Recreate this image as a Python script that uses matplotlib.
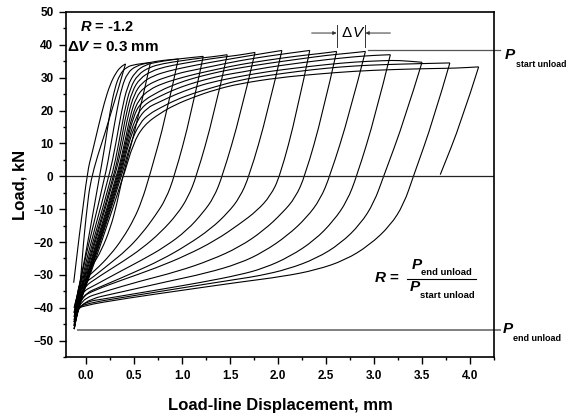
import matplotlib
matplotlib.use("Agg")
import matplotlib.pyplot as plt
from matplotlib.path import Path
from matplotlib.patches import PathPatch
from matplotlib.ticker import MultipleLocator, FormatStrFormatter

# unloading points (end of each loading step), mm / kN
unload_x = [0.41, 0.67, 0.96, 1.22, 1.47, 1.76, 2.04, 2.33, 2.61, 2.91, 3.17, 3.50, 3.79, 4.09]
unload_p = [34.2, 34.6, 35.7, 36.5, 37.0, 37.7, 38.3, 38.3, 38.0, 38.0, 37.0, 34.7, 34.5, 33.3]

# minimum (end of unloading) loads per cycle
tip_p = [-40.0, -41.5, -42.8, -43.8, -44.4, -45.2, -46.5, -46.5, -45.6, -45.6, -44.4, -41.6, -41.4]

# loading branches (first one is the initial loading)
load_x = [
    [-0.13, 0.0, 0.07, 0.13, 0.19, 0.25, 0.31, 0.36, 0.41],
    [-0.125, -0.065, 0.14, 0.20, 0.25, 0.30, 0.35, 0.42, 0.52, 0.67],
    [-0.125, -0.065, 0.20, 0.26, 0.32, 0.37, 0.43, 0.52, 0.65, 0.80, 0.96],
    [-0.125, -0.065, 0.24, 0.31, 0.37, 0.43, 0.51, 0.62, 0.75, 0.90, 1.05, 1.22],
    [-0.125, -0.065, 0.27, 0.34, 0.40, 0.46, 0.54, 0.66, 0.80, 1.00, 1.20, 1.35, 1.47],
    [-0.125, -0.065, 0.29, 0.36, 0.42, 0.48, 0.56, 0.68, 0.82, 1.00, 1.30, 1.60, 1.76],
    [-0.125, -0.065, 0.30, 0.38, 0.44, 0.50, 0.58, 0.70, 0.85, 1.05, 1.30, 1.60, 1.85, 2.04],
    [-0.125, -0.065, 0.32, 0.40, 0.46, 0.52, 0.60, 0.72, 0.86, 1.00, 1.10, 1.35, 1.60, 1.90, 2.15, 2.33],
    [-0.125, -0.065, 0.33, 0.41, 0.48, 0.55, 0.66, 0.80, 0.98, 1.15, 1.40, 1.60, 1.90, 2.20, 2.45, 2.61],
    [-0.125, -0.065, 0.34, 0.42, 0.49, 0.57, 0.77, 0.87, 1.02, 1.20, 1.40, 1.60, 1.90, 2.20, 2.50, 2.75, 2.91],
    [-0.125, -0.065, 0.35, 0.43, 0.51, 0.60, 0.77, 0.92, 1.08, 1.25, 1.45, 1.60, 1.90, 2.20, 2.50, 2.80, 3.00, 3.17],
    [-0.125, -0.065, 0.36, 0.44, 0.53, 0.63, 0.77, 0.93, 1.12, 1.30, 1.60, 1.90, 2.20, 2.50, 2.80, 3.10, 3.25, 3.50],
    [-0.125, -0.065, 0.37, 0.46, 0.56, 0.66, 0.77, 0.93, 1.12, 1.35, 1.60, 1.90, 2.20, 2.50, 2.80, 3.10, 3.50, 3.79],
    [-0.125, -0.065, 0.39, 0.49, 0.60, 0.77, 0.93, 1.12, 1.35, 1.60, 2.00, 2.40, 2.80, 3.20, 3.60, 3.85, 4.09],
]
load_p = [
    [-32.4, 0.0, 8.0, 15.5, 22.5, 28.0, 31.5, 33.3, 34.2],
    [-40.0, -33.5, 0.0, 10.0, 20.0, 27.0, 31.0, 33.3, 34.1, 34.6],
    [-41.5, -31.5, 0.0, 10.0, 20.0, 27.0, 31.5, 33.6, 34.6, 35.3, 35.7],
    [-42.8, -32.5, 0.0, 10.0, 20.0, 27.5, 31.8, 34.0, 34.8, 35.5, 36.0, 36.5],
    [-43.8, -33.5, 0.0, 10.0, 20.0, 27.0, 31.0, 33.2, 34.3, 35.2, 36.0, 36.5, 37.0],
    [-44.4, -34.5, 0.0, 10.0, 19.5, 26.0, 29.8, 32.0, 33.3, 34.3, 35.8, 36.9, 37.7],
    [-45.2, -35.5, 0.0, 10.0, 19.0, 25.0, 28.5, 30.6, 32.0, 33.3, 34.7, 36.2, 37.4, 38.3],
    [-46.5, -36.3, 0.0, 10.0, 18.5, 24.0, 27.0, 29.0, 30.4, 31.6, 32.2, 33.7, 35.2, 36.6, 37.6, 38.3],
    [-46.5, -37.0, 0.0, 10.0, 18.5, 23.5, 26.4, 28.3, 29.9, 31.2, 32.8, 34.0, 35.4, 36.6, 37.4, 38.0],
    [-45.6, -37.5, 0.0, 10.0, 18.0, 22.6, 26.0, 27.3, 29.0, 30.5, 31.9, 33.0, 34.4, 35.6, 36.8, 37.5, 38.0],
    [-45.6, -38.0, 0.0, 10.0, 17.5, 21.8, 24.4, 26.4, 28.1, 29.5, 30.9, 31.6, 33.2, 34.4, 35.5, 36.4, 36.8, 37.0],
    [-44.4, -38.5, 0.0, 10.0, 17.0, 20.8, 22.7, 24.9, 27.0, 28.6, 30.4, 31.9, 33.0, 34.0, 34.8, 35.2, 35.3, 34.7],
    [-41.6, -39.0, 0.0, 10.0, 16.3, 19.0, 20.8, 23.2, 25.3, 27.3, 29.3, 30.7, 31.9, 32.9, 33.6, 34.0, 34.3, 34.5],
    [-41.4, -39.5, 0.0, 10.0, 15.5, 19.2, 21.8, 24.1, 26.4, 28.2, 30.0, 31.1, 32.0, 32.5, 32.8, 32.9, 33.3],
]

# unloading branches (down to the compressive minimum)
unld_x = [
    [0.41, 0.24, 0.05, 0.0, -0.03, -0.05, -0.065, -0.125],
    [0.67, 0.54, 0.38, 0.32, 0.25, 0.16, 0.07, -0.01, -0.065, -0.125],
    [0.96, 0.83, 0.66, 0.58, 0.50, 0.38, 0.25, 0.10, -0.065, -0.125],
    [1.22, 1.09, 0.92, 0.83, 0.72, 0.58, 0.42, 0.25, 0.08, -0.065, -0.125],
    [1.47, 1.33, 1.15, 1.06, 0.95, 0.78, 0.58, 0.38, 0.16, -0.065, -0.125],
    [1.76, 1.61, 1.42, 1.33, 1.22, 1.05, 0.82, 0.58, 0.32, 0.10, -0.065, -0.125],
    [2.04, 1.89, 1.70, 1.60, 1.48, 1.30, 1.05, 0.78, 0.48, 0.20, -0.065, -0.125],
    [2.33, 2.195, 2.02, 1.92, 1.78, 1.60, 1.35, 1.05, 0.72, 0.38, 0.10, -0.065, -0.125],
    [2.61, 2.465, 2.28, 2.18, 2.05, 1.85, 1.60, 1.30, 0.95, 0.55, 0.20, -0.065, -0.125],
    [2.91, 2.745, 2.54, 2.44, 2.30, 2.10, 1.85, 1.60, 1.25, 0.85, 0.40, -0.065, -0.125],
    [3.17, 3.015, 2.82, 2.72, 2.58, 2.38, 2.12, 1.85, 1.60, 1.20, 0.70, 0.25, -0.065, -0.125],
    [3.50, 3.32, 3.10, 3.00, 2.86, 2.65, 2.40, 2.10, 1.80, 1.60, 1.10, 0.50, -0.065, -0.125],
    [3.79, 3.62, 3.41, 3.31, 3.17, 2.95, 2.70, 2.40, 2.05, 1.60, 1.00, 0.45, -0.065, -0.125],
    [4.09, 3.91, 3.69],
]
unld_p = [
    [34.2, 17.0, 0.0, -12.0, -21.0, -28.5, -33.5, -40.0],
    [34.6, 17.3, 0.0, -8.5, -16.0, -22.5, -27.0, -30.0, -31.5, -41.5],
    [35.7, 17.9, 0.0, -7.5, -13.0, -19.0, -24.0, -28.5, -32.5, -42.8],
    [36.5, 18.3, 0.0, -7.0, -12.0, -17.5, -22.5, -26.5, -30.5, -33.5, -43.8],
    [37.0, 18.5, 0.0, -6.5, -11.5, -17.0, -22.0, -26.0, -30.0, -34.5, -44.4],
    [37.7, 18.9, 0.0, -6.5, -11.0, -16.5, -21.5, -25.5, -29.5, -33.0, -35.5, -45.2],
    [38.3, 19.2, 0.0, -6.5, -11.0, -16.0, -21.0, -25.5, -29.5, -33.0, -36.3, -46.5],
    [38.3, 19.2, 0.0, -6.0, -10.5, -14.5, -19.5, -24.0, -28.0, -31.5, -34.5, -37.0, -46.5],
    [38.0, 19.0, 0.0, -6.5, -11.0, -16.5, -21.5, -25.5, -29.0, -32.0, -35.0, -37.5, -45.6],
    [38.0, 19.0, 0.0, -7.0, -12.5, -18.0, -23.0, -26.5, -29.5, -32.0, -35.0, -38.0, -45.6],
    [37.0, 18.5, 0.0, -7.5, -13.5, -19.5, -24.5, -28.0, -30.0, -32.3, -34.8, -37.0, -38.5, -44.4],
    [34.7, 17.4, 0.0, -8.0, -14.5, -20.5, -25.0, -28.3, -30.3, -31.2, -33.5, -36.3, -39.0, -41.6],
    [34.5, 17.3, 0.0, -8.5, -15.0, -21.0, -25.5, -28.5, -30.5, -32.2, -34.7, -37.0, -39.5, -41.4],
    [33.3, 16.6, 0.5],
]

plt.rcParams['font.family'] = ['Liberation Sans', 'DejaVu Sans']
plt.rcParams['mathtext.fontset'] = 'custom'
plt.rcParams['mathtext.it'] = 'Liberation Sans:italic:bold'
plt.rcParams['mathtext.rm'] = 'Liberation Sans:bold'
plt.rcParams['mathtext.bf'] = 'Liberation Sans:bold'


def smooth_branch(ax, xs, ps, **kw):
    # quadratic bezier through the read points, so the branches bend smoothly
    verts = [(xs[0], ps[0])]
    codes = [Path.MOVETO]
    for i in range(1, len(xs) - 1):
        verts.append((xs[i], ps[i]))
        verts.append(((xs[i] + xs[i + 1]) / 2, (ps[i] + ps[i + 1]) / 2))
        codes += [Path.CURVE3, Path.CURVE3]
    verts.append((xs[-1], ps[-1]))
    codes.append(Path.LINETO)
    ax.add_patch(PathPatch(Path(verts, codes), fill=False, **kw))


fig = plt.figure(figsize=(5.69, 4.19), dpi=100)
ax = fig.add_axes([66 / 569, 1 - 357 / 419, 428 / 569, 345 / 419])

for xs, ps in zip(load_x + unld_x, load_p + unld_p):
    smooth_branch(ax, xs, ps, edgecolor='black', lw=0.8, joinstyle='round')

# reference lines
ax.axhline(0, color='#222222', lw=0.9)
x_out = 4.31
ax.plot([unload_x[9] + 0.03, x_out], [max(unload_p), max(unload_p)],
        color='#555555', lw=0.9, clip_on=False)
ax.plot([-0.09, x_out], [min(tip_p) - 0.2, min(tip_p) - 0.2],
        color='#808080', lw=1.4, clip_on=False)

ax.set_xlim(-0.21, 4.25)
ax.set_ylim(-55, 50)
ax.xaxis.set_major_locator(MultipleLocator(0.5))
ax.xaxis.set_minor_locator(MultipleLocator(0.25))
ax.yaxis.set_major_locator(MultipleLocator(10))
ax.yaxis.set_minor_locator(MultipleLocator(5))
ax.xaxis.set_major_formatter(FormatStrFormatter('%.1f'))
ax.tick_params(which='major', direction='out', length=5, width=1.0, pad=4,
               labelsize=8.5, top=False, right=False)
ax.tick_params(which='minor', direction='out', length=2.5, width=1.0,
               top=False, right=False)
for lab in ax.get_xticklabels() + ax.get_yticklabels():
    lab.set_fontweight('bold')
for sp in ax.spines.values():
    sp.set_linewidth(1.2)

ax.set_xlabel('Load-line Displacement, mm', fontsize=12, fontweight='bold', labelpad=12)
ax.set_ylabel('Load, kN', fontsize=12, fontweight='bold', labelpad=4)

# top-left test parameters
ax.text(-0.06, 45.5, '$R$ = -1.2', fontsize=10.5, fontweight='bold', va='center')
ax.text(-0.195, 39.4, '\u0394$V$ = 0.3 mm', fontsize=11, fontweight='bold', va='center')

# delta V marker
dv_y = 43.6
for xv in (unload_x[8], unload_x[9]):
    ax.plot([xv, xv], [39.2, 46.1], color='#333333', lw=0.7)
arrow = dict(arrowstyle='-|>', color='#333333', lw=0.7, mutation_scale=5,
             shrinkA=0, shrinkB=0)
ax.annotate('', xy=(unload_x[8], dv_y), xytext=(2.35, dv_y), arrowprops=arrow)
ax.annotate('', xy=(unload_x[9], dv_y), xytext=(3.17, dv_y), arrowprops=arrow)
ax.text(2.71, dv_y, '\u0394', fontsize=11, ha='center', va='center')
ax.text(2.835, dv_y, 'V', fontsize=11, fontstyle='italic', ha='center', va='center')

# right-hand labels
ax.text(4.365, 36.9, 'P', fontsize=11, fontweight='bold', fontstyle='italic',
        va='center', clip_on=False)
ax.text(4.48, 34.0, 'start unload', fontsize=6.3, fontweight='bold', va='center',
        clip_on=False)
ax.text(4.34, -46.4, 'P', fontsize=11, fontweight='bold', fontstyle='italic',
        va='center', clip_on=False)
ax.text(4.445, -49.5, 'end unload', fontsize=6.5, fontweight='bold', va='center',
        clip_on=False)

# R definition
ax.text(3.0, -30.9, '$R$ =', fontsize=11, fontweight='bold', va='center')
ax.text(3.39, -27.1, 'P', fontsize=11, fontweight='bold', fontstyle='italic', va='center')
ax.text(3.49, -29.4, 'end unload', fontsize=6.8, fontweight='bold', va='center')
ax.plot([3.34, 4.06], [-31.4, -31.4], color='black', lw=0.8)
ax.text(3.375, -33.7, 'P', fontsize=11, fontweight='bold', fontstyle='italic', va='center')
ax.text(3.48, -36.3, 'start unload', fontsize=6.8, fontweight='bold', va='center')

fig.savefig('out.png', dpi=100)
